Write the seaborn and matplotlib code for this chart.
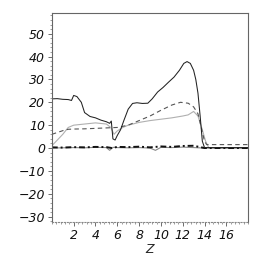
import matplotlib
matplotlib.use("Agg")
import matplotlib.pyplot as plt
import seaborn as sns
import pandas as pd
from matplotlib.ticker import AutoMinorLocator, MultipleLocator

# --- data ---
x_solid = [0, 0.5, 1.0, 1.5, 1.8, 2.0, 2.3, 2.7, 3.0, 3.5, 4.0, 4.5, 5.0, 5.3, 5.45, 5.6, 5.8,
           6.0, 6.3, 6.6, 7.0, 7.4, 7.8, 8.3, 8.8, 9.2, 9.7, 10.2, 10.7, 11.2, 11.7, 12.1,
           12.4, 12.7, 13.0, 13.2, 13.4, 13.6, 13.8, 14.0, 15, 16, 17, 18]
y_solid = [21.5, 21.6, 21.3, 21.2, 20.8, 23.0, 22.5, 20.0, 15.5, 13.8, 13.2, 12.2, 11.5, 10.8,
           11.8, 4.0, 3.5, 5.5, 8.0, 12.0, 17.0, 19.5, 19.8, 19.5, 19.6, 21.5, 24.5, 26.5,
           28.8, 31.0, 34.0, 37.0, 37.8, 37.0, 34.0, 30.0, 24.0, 14.0, 3.0, 0.2, 0.2, 0.2, 0.2, 0.2]

x_dash = [0, 0.5, 1.0, 1.5, 2, 3, 4, 5, 6, 7, 8, 9, 10, 11, 11.8, 12.5, 13, 13.4, 13.7,
          14.0, 14.2, 15, 16, 17, 18]
y_dash = [6.0, 6.8, 7.6, 8.2, 8.3, 8.4, 8.6, 8.8, 9.0, 10.0, 12.0, 14.0, 16.5, 18.8, 20.0,
          19.6, 18.0, 15.0, 9.0, 3.0, 1.5, 1.5, 1.5, 1.5, 1.5]

x_gray = [0, 0.5, 1, 1.5, 2, 3, 4, 5, 5.4, 5.7, 6, 6.5, 7, 8, 9, 10, 11, 12, 12.5, 13,
          13.4, 13.8, 14.1, 14.4, 15, 18]
y_gray = [1.0, 3.5, 6.0, 9.0, 10.0, 10.5, 11.0, 10.5, 9.0, 6.0, 7.5, 9.0, 10.0, 11.2, 12.0,
          12.6, 13.2, 14.0, 14.5, 16.0, 14.0, 8.0, 3.0, 0.0, 0.0, 0.0]

x_dashdot = [0, 1, 2, 3, 4, 5, 5.5, 6, 7, 8, 9, 10, 11, 12, 13, 13.5, 14, 18]
y_dashdot = [0.3, 0.2, 0.4, 0.3, 0.5, 0.4, 0.0, 0.5, 0.4, 0.6, 0.3, 0.7, 0.5, 0.9, 1.0, 0.5, 0.0, 0.0]

x_dot = [0, 1, 2, 3, 4, 5, 5.3, 5.6, 6, 7, 8, 9, 9.5, 10, 11, 12, 13, 14, 18]
y_dot = [0.0, 0.1, 0.2, 0.1, 0.3, 0.2, -1.0, 0.3, 0.2, 0.1, 0.2, 0.0, -1.0, 0.3, 0.2, 0.4, 0.2, 0.0, 0.0]

x_ticks = [2, 4, 6, 8, 10, 12, 14, 16]
y_ticks = [-30, -20, -10, 0, 10, 20, 30, 40, 50]

sns.set_style("white")
plt.rcParams['font.family'] = ['DejaVu Sans']

fig = plt.figure(figsize=(2.62, 2.62), dpi=100)
ax = fig.add_axes([0.198, 0.153, 0.749, 0.797])

sns.lineplot(x=x_gray, y=y_gray, ax=ax, color="#b0b0b0", lw=0.8, sort=False)
sns.lineplot(x=x_dot, y=y_dot, ax=ax, color="#888888", lw=0.8, sort=False)
sns.lineplot(x=x_dash, y=y_dash, ax=ax, color="#555555", lw=0.8, linestyle=(0, (4, 3)), sort=False)
sns.lineplot(x=x_dashdot, y=y_dashdot, ax=ax, color="#111111", lw=1.4, linestyle=(0, (3, 1.5, 1, 1.5)), sort=False)
sns.lineplot(x=x_solid, y=y_solid, ax=ax, color="#222222", lw=0.75, sort=False)

ax.set_xlim(0, 18)
ax.set_ylim(-32.3, 59)
ax.set_xticks(x_ticks)
ax.set_yticks(y_ticks)
ax.set_xticklabels([str(v) for v in x_ticks], fontstyle="italic", fontsize=9)
ax.set_yticklabels([f"{v:d}".replace("-", "\u2212") for v in y_ticks], fontstyle="italic", fontsize=9)
ax.xaxis.set_minor_locator(AutoMinorLocator(5))
ax.yaxis.set_minor_locator(AutoMinorLocator(5))
ax.tick_params(axis="both", which="major", direction="out", length=3, width=0.6, color="#555555",
               pad=2, labelcolor="#111111", bottom=True, left=True)
ax.tick_params(axis="both", which="minor", direction="out", length=1.5, width=0.5, color="#777777",
               bottom=True, left=True)
ax.set_xlabel("Z", fontstyle="italic", fontsize=9, labelpad=1)
ax.set_ylabel("")

for side in ["top", "right", "left"]:
    ax.spines[side].set_color("#666666")
    ax.spines[side].set_linewidth(0.8)
ax.spines["bottom"].set_color("#888888")
ax.spines["bottom"].set_linestyle(":")
ax.spines["bottom"].set_linewidth(0.8)
ax.grid(False)

fig.savefig("out.png", dpi=100)
